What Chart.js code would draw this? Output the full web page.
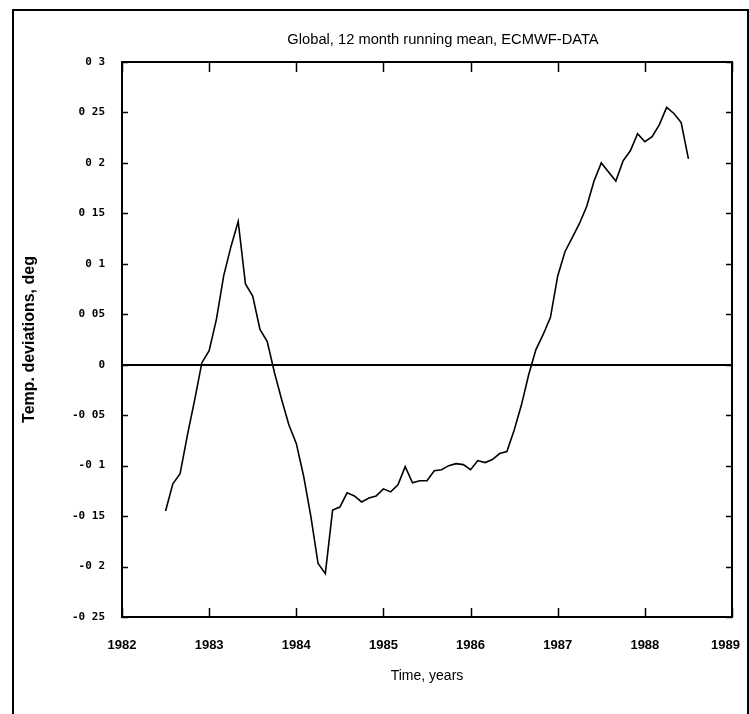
<!DOCTYPE html>
<html>
<head>
<meta charset="utf-8">
<script src="https://cdn.jsdelivr.net/npm/chart.js@4"></script>
<style>
  html, body { margin: 0; padding: 0; background: #fff; }
  #wrap { position: relative; width: 749px; height: 714px; overflow: hidden; }
  #frame { position: absolute; left: 12px; top: 9px; width: 733px; height: 720px;
           border-left: 2px solid #000; border-top: 2px solid #000; border-right: 2px solid #000; }
  canvas { position: absolute; left: 0; top: 0; }
</style>
</head>
<body>
<div id="wrap">
  <div id="frame"></div>
  <canvas id="tempChart" width="749" height="714"></canvas>
</div>
<script>
// monthly 12 month running mean, first value is mid 1982
const startYear = 1982.5;
const monthStep = 1 / 12;
const tempDev = [
    -0.145, -0.118, -0.108, -0.070, -0.035, 0.002, 0.014, 0.045, 0.088, 0.117, 0.142, 0.080,
    0.068, 0.035, 0.023, -0.008, -0.035, -0.060, -0.078, -0.110, -0.150, -0.197, -0.207, -0.144,
    -0.141, -0.127, -0.130, -0.136, -0.132, -0.130, -0.123, -0.126, -0.119, -0.101, -0.117, -0.115,
    -0.115, -0.105, -0.104, -0.100, -0.098, -0.099, -0.104, -0.095, -0.097, -0.094, -0.088, -0.086,
    -0.065, -0.040, -0.010, 0.015, 0.030, 0.047, 0.088, 0.112, 0.126, 0.140, 0.157, 0.182,
    0.200, 0.191, 0.182, 0.202, 0.212, 0.229, 0.221, 0.226, 0.238, 0.255, 0.249, 0.240,
    0.204
];
const yearTicks = [1982, 1983, 1984, 1985, 1986, 1987, 1988, 1989];
const devTicks = [-0.25, -0.2, -0.15, -0.1, -0.05, 0, 0.05, 0.1, 0.15, 0.2, 0.25, 0.3];
const devTickLabels = ['-0 25', '-0 2', '-0 15', '-0 1', '-0 05', '0', '0 05', '0 1', '0 15', '0 2', '0 25', '0 3'];
const chartTitle = 'Global, 12 month running mean, ECMWF-DATA';

const points = tempDev.map((v, i) => ({ x: startYear + i * monthStep, y: v }));

// box round the plot, inward tick marks and the title over the plot
const frameTicks = {
    id: 'frameTicks',
    afterDatasetsDraw(chart) {
        const { ctx, chartArea: a, scales: { x, y } } = chart;
        ctx.save();
        ctx.strokeStyle = '#000';
        ctx.lineWidth = 2;
        ctx.strokeRect(a.left, a.top, a.right - a.left, a.bottom - a.top);
        ctx.lineWidth = 1.5;
        ctx.beginPath();
        x.ticks.forEach(t => {
            const px = Math.round(x.getPixelForValue(t.value)) + 0.5;
            ctx.moveTo(px, a.bottom); ctx.lineTo(px, a.bottom - 9);
            ctx.moveTo(px, a.top); ctx.lineTo(px, a.top + 10);
        });
        y.ticks.forEach(t => {
            const py = Math.round(y.getPixelForValue(t.value)) + 0.5;
            ctx.moveTo(a.left, py); ctx.lineTo(a.left + 6, py);
            ctx.moveTo(a.right, py); ctx.lineTo(a.right - 6, py);
        });
        ctx.stroke();

        ctx.fillStyle = '#000';
        ctx.font = '14.7px "Liberation Sans"';
        ctx.textAlign = 'center';
        ctx.textBaseline = 'middle';
        ctx.fillText(chartTitle, (a.left + a.right) / 2 + 16, a.top - 22);
        ctx.restore();
    }
};

const ctx = document.getElementById('tempChart').getContext('2d');
new Chart(ctx, {
    type: 'line',
    data: {
        datasets: [{
            label: 'Global',
            data: points,
            borderColor: '#000',
            borderWidth: 1.6,
            pointRadius: 0,
            tension: 0,
            fill: false
        }]
    },
    options: {
        responsive: false,
        animation: false,
        layout: { padding: { top: 62, right: 17, bottom: 0, left: 0 } },
        plugins: {
            legend: { display: false },
            tooltip: { enabled: false },
            title: { display: false }
        },
        scales: {
            x: {
                type: 'linear',
                min: 1982,
                max: 1989,
                afterBuildTicks: s => { s.ticks = yearTicks.map(v => ({ value: v })); },
                afterFit: s => { s.height = 97; s.paddingLeft = 0; s.paddingRight = 0; },
                grid: { display: false, drawTicks: false },
                border: { display: false },
                ticks: {
                    color: '#000',
                    padding: 21,
                    maxRotation: 0,
                    font: { family: 'Liberation Sans', size: 13, weight: 'bold' },
                    // last label sits a little left of its tick in the original
                    callback: value => (value === 1989 ? value + '\u2002\u2002' : String(value))
                },
                title: {
                    display: true,
                    text: 'Time, years',
                    color: '#000',
                    font: { family: 'Liberation Sans', size: 14, lineHeight: 1.2 },
                    padding: { top: 0, bottom: 29.6 }
                }
            },
            y: {
                type: 'linear',
                min: -0.25,
                max: 0.3,
                afterBuildTicks: s => { s.ticks = devTicks.map(v => ({ value: v })); },
                afterFit: s => { s.width = 122; s.paddingTop = 0; s.paddingBottom = 0; },
                grid: {
                    drawTicks: false,
                    lineWidth: 2,
                    color: c => (c.tick && c.tick.value === 0 ? '#000' : 'rgba(0,0,0,0)')
                },
                border: { display: false },
                ticks: {
                    color: '#000',
                    padding: 17,
                    font: { family: 'DejaVu Sans Mono', size: 11, weight: 'bold' },
                    callback: (value, index) => devTickLabels[index]
                },
                title: {
                    display: true,
                    text: 'Temp. deviations, deg',
                    color: '#000',
                    font: { family: 'Liberation Sans', size: 16, weight: 'bold', lineHeight: 1.2 },
                    padding: { top: 20, bottom: 0 }
                }
            }
        }
    },
    plugins: [frameTicks]
});
</script>
</body>
</html>
